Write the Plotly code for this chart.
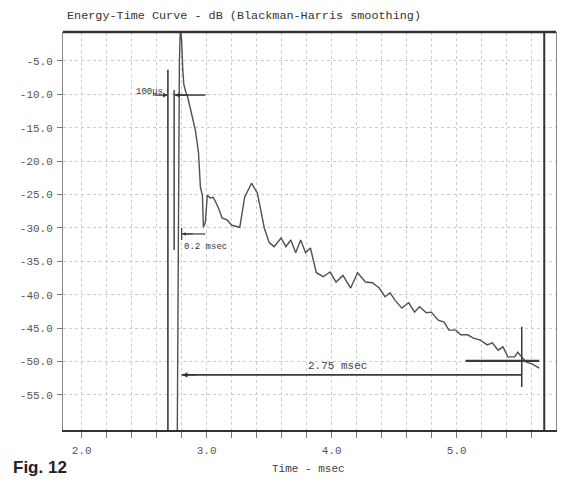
import plotly.graph_objects as go

# ---- data ----
t_ms = [2.765, 2.775, 2.782, 2.790, 2.800, 2.808, 2.817, 2.833, 2.848, 2.872, 2.896, 2.911,
        2.935, 2.950, 2.966, 2.974, 2.990, 3.005, 3.029, 3.053, 3.092, 3.123, 3.163, 3.202,
        3.265, 3.304, 3.359, 3.406, 3.461, 3.500, 3.540, 3.595, 3.634, 3.673, 3.712, 3.752,
        3.791, 3.830, 3.877, 3.932, 3.987, 4.035, 4.090, 4.152, 4.207, 4.270, 4.325, 4.380,
        4.427, 4.467, 4.506, 4.561, 4.616, 4.663, 4.702, 4.757, 4.797, 4.852, 4.899, 4.938,
        4.993, 5.032, 5.087, 5.134, 5.189, 5.244, 5.284, 5.331, 5.370, 5.409, 5.464, 5.488,
        5.519, 5.558, 5.606, 5.660]
etc_db = [-61.0, -20.0, -5.0, 0.0, -2.0, -6.0, -8.5, -9.6, -10.4, -12.3, -14.5, -15.5,
          -18.8, -23.9, -25.1, -29.9, -29.1, -25.1, -25.5, -25.4, -26.9, -28.5, -28.8, -29.6,
          -29.9, -25.4, -23.3, -24.8, -30.0, -32.2, -32.8, -31.5, -32.8, -31.8, -33.7, -31.8,
          -33.7, -33.0, -36.7, -37.3, -36.6, -38.1, -37.1, -39.0, -36.7, -38.1, -38.2, -39.0,
          -40.3, -39.7, -40.8, -42.0, -41.2, -42.6, -41.8, -42.7, -42.6, -43.8, -44.1, -45.3,
          -45.3, -46.0, -46.0, -46.5, -46.8, -47.5, -47.2, -48.3, -47.8, -49.3, -49.3, -48.6,
          -49.3, -50.1, -50.4, -51.0]

x_tick_vals = [1.8 + 0.2 * i for i in range(21)]
x_major = [2.0, 3.0, 4.0, 5.0]
y_tick_vals = [-5, -10, -15, -20, -25, -30, -35, -40, -45, -50, -55]

# cursor / marker positions (msec, dB)
cur_a = 2.69
cur_b = 2.74
peak_t = 2.80
end_t = 5.52
right_cursor = 5.70

X_RANGE = [1.851, 5.794]
Y_RANGE = [-60.25, -0.66]

FONT_MONO = "Liberation Mono"
INK = "#3a3a3a"
GRID = "#cccccc"

fig = go.Figure()
fig.add_trace(go.Scatter(x=t_ms, y=etc_db, mode="lines",
                         line=dict(color="#505050", width=1.4),
                         hoverinfo="skip", showlegend=False, cliponaxis=True))

x_text = [f"{v:.1f}" if any(abs(v - m) < 1e-6 for m in x_major) else "" for v in x_tick_vals]

# the page body adds an 8px offset, so the figure is 8px smaller than the window
fig.update_layout(
    width=561, height=475,
    margin=dict(l=47, r=12, t=24, b=53),
    paper_bgcolor="white", plot_bgcolor="white",
    showlegend=False,
    font=dict(family=FONT_MONO, color="#555", size=11),
    xaxis=dict(range=X_RANGE, tickvals=x_tick_vals, ticktext=x_text,
               ticks="outside", ticklen=6, tickcolor="#777", tickwidth=1,
               showgrid=True, gridcolor=GRID, griddash="dot", gridwidth=1,
               showline=True, linecolor="#333", linewidth=1.5,
               zeroline=False, ticklabelstandoff=3,
               tickfont=dict(family=FONT_MONO, size=11, color="#555")),
    yaxis=dict(range=Y_RANGE, tickvals=y_tick_vals,
               ticktext=[f"{v:.1f}" for v in y_tick_vals],
               ticks="outside", ticklen=5, tickcolor="#777",
               showgrid=True, gridcolor=GRID, griddash="dot", gridwidth=1,
               showline=True, linecolor="#888", linewidth=1, mirror=True,
               zeroline=False, ticklabelstandoff=2,
               tickfont=dict(family=FONT_MONO, size=11, color="#555")),
)

shapes = []
def seg(x0, y0, x1, y1, w=1.5, c=INK, xr="x", yr="y"):
    shapes.append(dict(type="line", x0=x0, y0=y0, x1=x1, y1=y1, xref=xr, yref=yr,
                       line=dict(color=c, width=w)))

# thick top border
seg(0, 1, 1, 1, w=2.5, c="#333", xr="x domain", yr="y domain")
# right thick cursor line
seg(right_cursor, Y_RANGE[0], right_cursor, Y_RANGE[1], w=2, c="#333")
# left cursors
seg(cur_a, -6.3, cur_a, Y_RANGE[0], w=1.6)
seg(cur_b, -9.4, cur_b, -33.3, w=1.4)
# 100 us marker
seg(cur_b, -10.1, 2.99, -10.1, w=1.5)
# 0.2 msec dimension
seg(peak_t, -30.9, 2.99, -30.9, w=1.2)
seg(peak_t, -30.0, peak_t, -31.8, w=1.2)
# 2.75 msec dimension
seg(peak_t, -52.0, end_t, -52.0, w=1.8)
seg(end_t, -44.8, end_t, -53.8, w=1.5)
seg(5.07, -49.9, 5.66, -49.9, w=2.2)
fig.update_layout(shapes=shapes)

fig.add_annotation(text="Energy-Time Curve - dB (Blackman-Harris smoothing)",
                   xref="x domain", yref="paper", x=0.004, y=1.0, yshift=16,
                   xanchor="left", yanchor="middle", showarrow=False,
                   font=dict(family=FONT_MONO, size=11.8, color="#333"))
fig.add_annotation(text="Time - msec", xref="paper", yref="paper", x=0.498, y=0,
                   yshift=-39, xanchor="center", yanchor="middle", showarrow=False,
                   font=dict(family=FONT_MONO, size=11, color="#444"))
fig.add_annotation(text="<b>Fig. 12</b>", xref="paper", yref="paper", x=-0.105, y=0,
                   yshift=-37, xanchor="left", yanchor="middle", showarrow=False,
                   font=dict(family="Liberation Sans", size=17, color="#222"))
# handwritten marker notes
fig.add_annotation(text="100μs", x=cur_a - 0.02, y=-9.6, xref="x", yref="y",
                   xanchor="right", yanchor="middle", showarrow=False,
                   font=dict(family=FONT_MONO, size=9, color="#333"))
fig.add_annotation(x=cur_a, y=-10.1, ax=cur_a - 0.12, ay=-10.1, xref="x", yref="y",
                   axref="x", ayref="y", showarrow=True, arrowhead=2, arrowsize=0.8,
                   arrowwidth=1.2, arrowcolor="#333", text="")
fig.add_annotation(x=cur_b + 0.005, y=-10.1, ax=cur_b + 0.12, ay=-10.1, xref="x", yref="y",
                   axref="x", ayref="y", showarrow=True, arrowhead=2, arrowsize=0.8,
                   arrowwidth=1.2, arrowcolor="#333", text="")
fig.add_annotation(text="0.2 msec", x=peak_t + 0.005, y=-32.9, xref="x", yref="y",
                   xanchor="left", yanchor="middle", showarrow=False,
                   font=dict(family=FONT_MONO, size=9, color="#333"))
fig.add_annotation(x=peak_t + 0.005, y=-30.9, ax=peak_t + 0.1, ay=-30.9, xref="x", yref="y",
                   axref="x", ayref="y", showarrow=True, arrowhead=2, arrowsize=0.7,
                   arrowwidth=1, arrowcolor="#333", text="")
fig.add_annotation(text="2.75 msec", x=4.05, y=-52.0, xref="x", yref="y",
                   xanchor="center", yanchor="bottom", yshift=1, showarrow=False,
                   font=dict(family=FONT_MONO, size=11, color="#444"))
fig.add_annotation(x=peak_t + 0.005, y=-52.0, ax=peak_t + 0.12, ay=-52.0, xref="x", yref="y",
                   axref="x", ayref="y", showarrow=True, arrowhead=2, arrowsize=0.8,
                   arrowwidth=1.3, arrowcolor="#333", text="")

fig.write_html("out.html")
